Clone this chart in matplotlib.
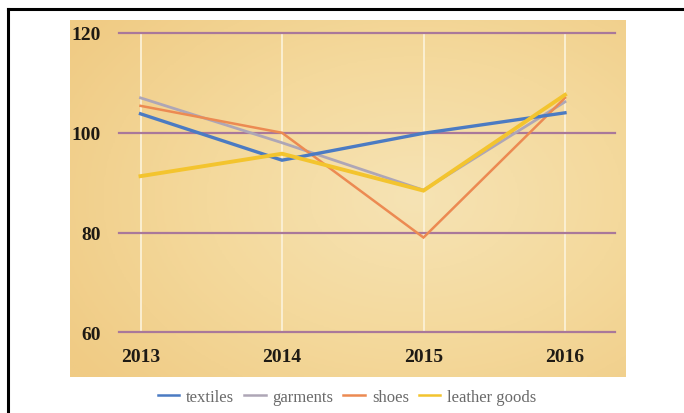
import numpy as np
import matplotlib
matplotlib.use("Agg")
import matplotlib.pyplot as plt
from matplotlib.lines import Line2D
from matplotlib.colors import LinearSegmentedColormap

years = [2013, 2014, 2015, 2016]
year_labels = ["2013", "2014", "2015", "2016"]
textiles = [103.8, 94.5, 99.9, 104.0]
garments = [107.0, 98.0, 88.5, 106.2]
shoes = [105.4, 100.0, 79.0, 107.0]
leather_goods = [91.3, 95.8, 88.4, 107.6]
series_names = ["textiles", "garments", "shoes", "leather goods"]
y_ticks = [60, 80, 100, 120]

W, H = 684, 414
fig = plt.figure(figsize=(W / 100, H / 100), dpi=100)
fig.patch.set_facecolor("white")

def px_rect(x0, y0, x1, y1):
    return [x0 / W, 1 - y1 / H, (x1 - x0) / W, (y1 - y0) / H]

# background gradient panel
bg = fig.add_axes(px_rect(70, 21, 626, 378))
bg.set_axis_off()
nx, ny = 300, 200
xx, yy = np.meshgrid(np.linspace(0, 1, nx), np.linspace(0, 1, ny))
d = np.sqrt(((xx - 0.62) / 0.75) ** 2 + ((yy - 0.5) / 0.8) ** 2)
d = np.clip(d, 0, 1)
cmap = LinearSegmentedColormap.from_list("bgc", ["#F6E3B4", "#F4D99C", "#F0CB84"])
bg.imshow(d, cmap=cmap, aspect="auto", extent=[0, 1, 0, 1], vmin=0, vmax=1)

# main axes: gridline extent 119..615, 120 at y=34, 60 at y=333.3
ax = fig.add_axes(px_rect(119, 34, 615, 333.3))
ax.set_facecolor("none")
ppy = (565 - 140.5) / 3.0
x0 = 2013 - (140.5 - 119) / ppy
x1 = 2016 + (615 - 565) / ppy
ax.set_xlim(x0, x1)
ax.set_ylim(60, 120)
for s in ax.spines.values():
    s.set_visible(False)

ax.set_yticks(y_ticks)
ax.set_xticks(years)
ax.set_xticklabels(year_labels)
ax.tick_params(length=0)
ax.tick_params(axis="y", pad=13)
ax.tick_params(axis="x", pad=11)
for lab in ax.get_xticklabels() + ax.get_yticklabels():
    lab.set_fontfamily("Liberation Serif")
    lab.set_fontsize(14)
    lab.set_color("#1E1A14")
    lab.set_fontweight("bold")

for yv in y_ticks:
    ax.axhline(yv, color="#A9789A", lw=1.6, zorder=1, clip_on=False)
for xv in years:
    ax.axvline(xv, color="#FBF1D6", lw=1.3, zorder=0.5, clip_on=False)

colors = ["#4B7BC3", "#AEA6B6", "#EC8A52", "#F3C42E"]
widths = [2.4, 2.0, 1.8, 2.8]
data = [textiles, garments, shoes, leather_goods]
zorders = [4, 3, 3.5, 5]
for name, vals, c, lw, z in zip(series_names, data, colors, widths, zorders):
    ax.plot(years, vals, color=c, lw=lw, zorder=z, solid_joinstyle="miter", clip_on=False)

handles = [Line2D([0], [0], color=c, lw=1.8) for c in colors]
fig.legend(handles, series_names, loc="center", bbox_to_anchor=(347 / W, 1 - 398 / H),
           ncol=4, frameon=False, handlelength=1.3, handletextpad=0.4, columnspacing=0.6,
           prop={"family": "Liberation Serif", "size": 12}, labelcolor="#6A6A6A")

# border lines: top and left
fig.add_artist(Line2D([8 / W, 1], [1 - 9.5 / H, 1 - 9.5 / H], color="black", lw=2.2,
                      transform=fig.transFigure))
fig.add_artist(Line2D([8 / W, 8 / W], [0, 1 - 9.5 / H], color="black", lw=2.2,
                      transform=fig.transFigure))

fig.savefig("out.png", dpi=100, facecolor="white")
